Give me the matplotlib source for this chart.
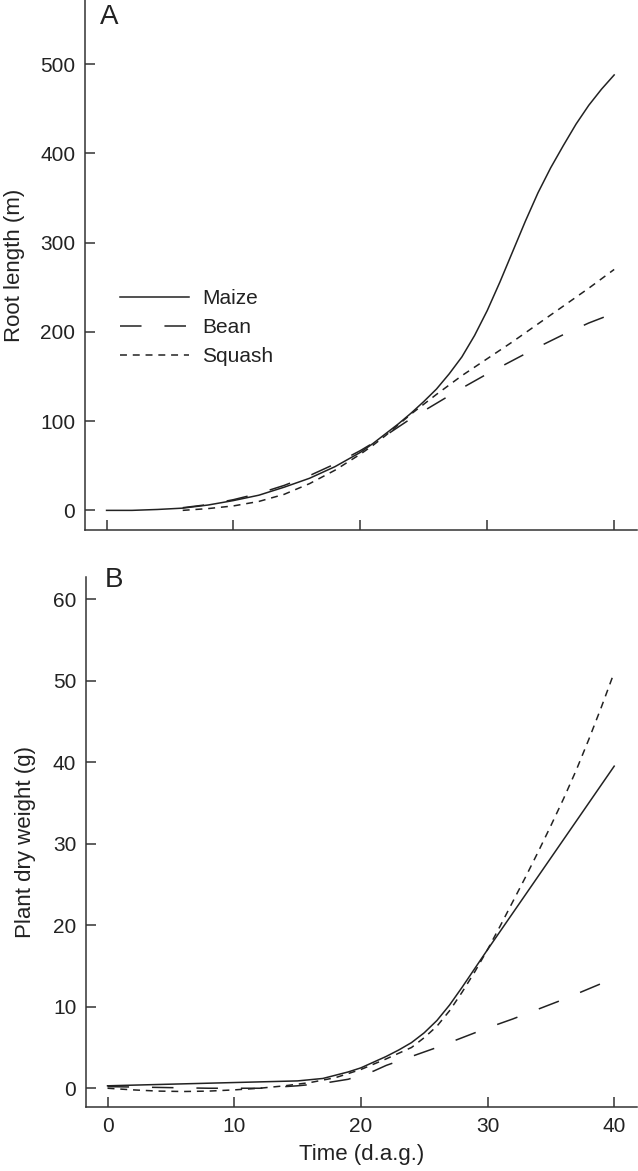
import numpy as np
import matplotlib
matplotlib.use('Agg')
from matplotlib import pyplot as plt

plt.rcParams['font.family'] = ['Liberation Sans', 'DejaVu Sans']
plt.rcParams['lines.scale_dashes'] = False

# panel A - root length (m)
xa_maize = [0, 2, 4, 6, 8, 10, 12, 14, 16, 18, 20, 21, 22, 23, 24, 25, 26, 27, 28, 29, 30,
            31, 32, 33, 34, 35, 36, 37, 38, 39, 40]
ya_maize = [0, 0, 1, 2.5, 6, 11, 17, 26, 36, 49, 65, 75, 86, 97, 109, 122, 136, 153, 172, 196, 224,
            256, 290, 324, 356, 384, 409, 433, 454, 472, 488]
xa_bean = [6, 8, 10, 12, 14, 16, 18, 20, 22, 24, 26, 28, 30, 32, 34, 36, 38, 40]
ya_bean = [3, 6.5, 12, 19, 28, 39, 52, 67, 84, 103, 120, 137, 153, 168, 183, 197, 210, 221]
xa_squash = [6, 8, 10, 12, 14, 16, 18, 20, 21, 22, 23, 24, 25, 26, 28, 30, 32, 34, 36, 38, 40]
ya_squash = [0, 2, 5, 10, 18, 30, 45, 63, 73, 84, 96, 108, 119, 130, 151, 170, 189, 209, 229, 249, 270]

# panel B - plant dry weight (g)
xb_maize = [0, 5, 10, 15, 17, 18, 19, 20, 21, 22, 23, 24, 25, 26, 27, 28, 29, 30, 32, 34, 36, 38, 40]
yb_maize = [0.3, 0.5, 0.7, 0.9, 1.2, 1.6, 2.0, 2.5, 3.2, 3.9, 4.7, 5.6, 6.8, 8.3, 10.2, 12.4, 14.7, 17,
            21.5, 26, 30.5, 35, 39.5]
xb_bean = [0, 4, 8, 12, 15, 17, 19, 21, 22, 24, 26, 28, 30, 32, 34, 36, 38, 40]
yb_bean = [0.2, 0.1, 0, 0, 0.3, 0.6, 1.1, 2.1, 2.8, 3.9, 5.0, 6.2, 7.4, 8.5, 9.7, 10.9, 12.2, 13.5]
xb_squash = [0, 2, 4, 6, 8, 10, 12, 14, 16, 18, 20, 22, 24, 25, 26, 27, 28, 29, 30,
             31, 32, 33, 34, 35, 36, 37, 38, 39, 40]
yb_squash = [0, -0.2, -0.35, -0.4, -0.35, -0.2, 0, 0.3, 0.7, 1.3, 2.3, 3.6, 5.0, 6.2, 7.6, 9.5, 11.8, 14.3, 17,
             19.9, 22.9, 25.9, 29.0, 32.2, 35.5, 39.0, 42.8, 46.8, 51]

labels = ['Maize', 'Bean', 'Squash']
xticks = [0, 10, 20, 30, 40]

W, H = 638, 1171
fig = plt.figure(figsize=(W / 100, H / 100), dpi=100)
axA = fig.add_axes([85 / W, 1 - 530 / H, 552 / W, 530 / H])
axB = fig.add_axes([86 / W, 1 - 1107 / H, 551 / W, 530 / H])

ink = '#222222'
lw = 1.1
bean_d = (15.5, 16.5)
squash_d = (5.0, 4.2)

def style(ax):
    for s in ['top', 'right']:
        ax.spines[s].set_visible(False)
    for s in ['left', 'bottom']:
        ax.spines[s].set_linewidth(1.1)
        ax.spines[s].set_color('#333333')
    ax.tick_params(direction='in', length=7.5, width=1.1, color='#333333',
                   labelsize=15, labelcolor=ink, pad=7)
    ax.set_xticks(xticks)
    ax.set_xlim(-1.7, 41.8)

la, = axA.plot(xa_maize, ya_maize, color=ink, lw=lw)
lb, = axA.plot(xa_bean, ya_bean, color=ink, lw=lw)
lb.set_dashes(bean_d)
lc, = axA.plot(xa_squash, ya_squash, color=ink, lw=lw)
lc.set_dashes(squash_d)
style(axA)
axA.set_ylim(-22, 572)
axA.set_yticks([0, 100, 200, 300, 400, 500])
axA.set_xticklabels([])
axA.set_ylabel('Root length (m)', fontsize=16, color=ink, labelpad=11)
axA.legend([la, lb, lc], labels, loc='upper left', bbox_to_anchor=(0.063, 0.455),
           frameon=False, fontsize=15, handlelength=3.3, handletextpad=0.67,
           labelspacing=0.49, borderpad=0, borderaxespad=0, labelcolor=ink)

mb, = axB.plot(xb_maize, yb_maize, color=ink, lw=lw)
bb, = axB.plot(xb_bean, yb_bean, color=ink, lw=lw)
bb.set_dashes(bean_d)
sb, = axB.plot(xb_squash, yb_squash, color=ink, lw=lw)
sb.set_dashes(squash_d)
style(axB)
axB.set_ylim(-2.3, 62.7)
axB.set_yticks([0, 10, 20, 30, 40, 50, 60])
axB.set_ylabel('Plant dry weight (g)', fontsize=16, color=ink, labelpad=12)
axB.set_xlabel('Time (d.a.g.)', fontsize=16, color=ink, labelpad=6)

fig.text(109 / W, 1 - 17 / H, 'A', fontsize=20, color=ink, ha='center', va='center')
fig.text(114 / W, 1 - 580 / H, 'B', fontsize=20, color=ink, ha='center', va='center')

fig.savefig('out.png', dpi=100)
